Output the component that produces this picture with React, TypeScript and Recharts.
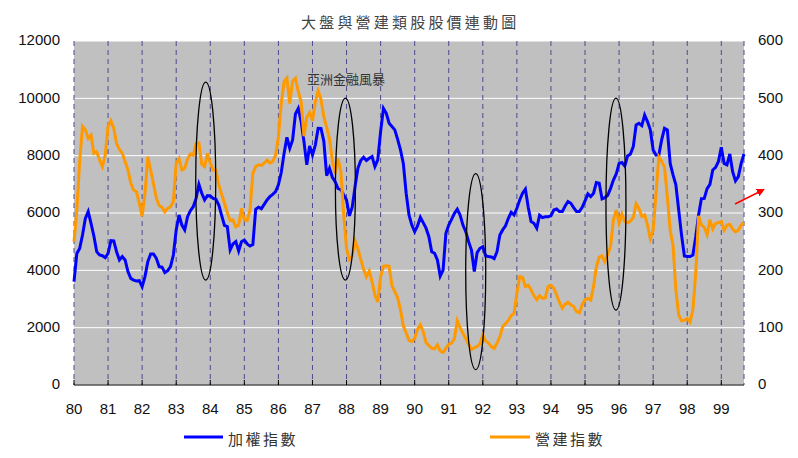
import React from 'react'
import { LineChart, Line, XAxis, YAxis, CartesianGrid, ReferenceDot } from 'recharts'

// monthly, Jan 1980 .. Sep 1999
const taiex = [
  3605, 4590, 4760, 5230, 5815, 6050, 5640, 5200, 4650, 4535, 4510, 4440,
  4590, 5035, 5025, 4650, 4360, 4480, 4360, 3955, 3720, 3660, 3630, 3640,
  3430, 3780, 4300, 4570, 4570, 4420, 4130, 4110, 3920, 3990, 4130, 4535,
  5410, 5930, 5580, 5410, 5870, 6080, 6220, 6510, 7000, 6690, 6455, 6605,
  6595, 6510, 6480, 6280, 5920, 5570, 5525, 4710, 4920, 5000, 4675, 5000,
  5060, 4920, 4850, 4900, 6130, 6200, 6150, 6300, 6455, 6570, 6650, 6745,
  6980, 7410, 8080, 8640, 8260, 8550, 9455, 9650, 9190, 8490, 7680, 8340,
  8025, 8370, 8955, 8950, 8500, 7300, 7560, 7245, 7095, 6850, 6815, 6630,
  6455, 5900, 6200, 6920, 7560, 7830, 7945, 7830, 7910, 7970, 7620, 7850,
  8840, 9650, 9480, 9130, 9015, 8900, 8570, 8200, 7730, 6690, 5930, 5580,
  5350, 5550, 5850, 5665, 5470, 5175, 4650, 4595, 4360, 3800, 4010, 5290,
  5580, 5780, 5990, 6130, 5930, 5580, 5350, 5000, 4710, 3960, 4620, 4770,
  4825, 4500, 4480, 4465, 4410, 4650, 5230, 5410, 5550, 5815, 6025, 5930,
  6165, 6455, 6690, 6830, 6200, 5700, 5640, 5470, 5920, 5840, 5870, 5870,
  5900, 6105, 6140, 6050, 6050, 6245, 6400, 6340, 6190, 6050, 6050, 6200,
  6420, 6665, 6570, 6690, 7060, 7040, 6490, 6535, 6620, 6860, 7150, 7360,
  7730, 7760, 7640, 7990, 8060, 8315, 9070, 9130, 9050, 9420, 9190, 8900,
  8200, 8025, 8025, 8550, 8955, 8900, 7730, 7330, 6980, 6105, 5230, 4500,
  4480, 4480, 4535, 5175, 5930, 6500, 6510, 6850, 7000, 7500, 7590, 7800,
  8290, 7730, 7680, 8060, 7440, 7120, 7270, 7730, 8060,
]

const construction = [
  250, 305, 390, 451, 445, 430, 436, 404, 407, 392, 381, 401,
  451, 461, 448, 421, 411, 404, 390, 375, 352, 340, 337, 317,
  294, 334, 398, 375, 351, 326, 313, 310, 302, 308, 311, 320,
  387, 395, 375, 378, 394, 403, 401, 421, 422, 385, 381, 404,
  387, 375, 375, 349, 333, 317, 301, 287, 288, 276, 279, 308,
  288, 287, 305, 369, 381, 384, 383, 387, 392, 387, 390, 401,
  433, 491, 529, 535, 491, 530, 535, 512, 494, 434, 467, 475,
  461, 494, 513, 498, 468, 450, 429, 392, 369, 395, 372, 297,
  238, 219, 225, 251, 238, 219, 202, 189, 199, 180, 157, 145,
  189, 207, 208, 207, 173, 163, 152, 131, 103, 91, 78, 76,
  81, 97, 105, 93, 74, 69, 64, 63, 70, 59, 57, 64,
  71, 73, 81, 112, 100, 90, 81, 71, 62, 65, 67, 72,
  87, 77, 73, 67, 64, 73, 84, 102, 107, 113, 121, 125,
  160, 189, 188, 172, 174, 166, 156, 149, 156, 151, 152, 172,
  174, 169, 157, 144, 134, 141, 144, 140, 137, 128, 126, 140,
  149, 151, 148, 172, 206, 223, 225, 215, 228, 242, 288, 305,
  282, 298, 285, 283, 286, 292, 316, 308, 294, 297, 279, 255,
  270, 334, 398, 390, 380, 328, 270, 244, 166, 122, 112, 113,
  116, 110, 131, 195, 295, 279, 275, 262, 288, 272, 282, 283,
  285, 270, 279, 280, 272, 267, 270, 279, 283,
]

const yearLabels = ['80', '81', '82', '83', '84', '85', '86', '87', '88', '89',
  '90', '91', '92', '93', '94', '95', '96', '97', '98', '99']
const leftTicks = [0, 2000, 4000, 6000, 8000, 10000, 12000]
const rightTicks = [0, 100, 200, 300, 400, 500, 600]

// circled periods: [month index, taiex level, half height px]
const highlights = [
  [46.4, 7115, 99],
  [95.6, 6836, 91],
  [141.5, 3952, 98],
  [190.9, 6313, 106],
]

const data = taiex.map((v, i) => ({ m: i, taiex: v, build: construction[i] }))
const xTicks = yearLabels.map((_, i) => i * 12)

const tickFont = { fontFamily: '"Liberation Sans", Arial, sans-serif', fontSize: 15, fill: '#111' }
const cjk = '"Noto Sans CJK TC", "Noto Sans CJK SC", sans-serif'

const YearTick = (props: any) => {
  const { x, y, payload } = props
  return (
    <g>
      <line x1={x} x2={x} y1={y - 18} y2={y - 23} stroke="#000" />
      <text x={x} y={y} dy="0.71em" textAnchor="middle" {...tickFont}>
        {yearLabels[Math.round(payload.value / 12)]}
      </text>
    </g>
  )
}

export default function App() {
  return (
    <div style={{ position: 'absolute', left: 0, top: 0, width: 798, height: 458, background: '#fff' }}>
      <LineChart width={798} height={458} data={data} margin={{ top: 41, right: 10, left: 14, bottom: 43 }}>
        <CartesianGrid yAxisId="left" vertical={false} stroke="#fff" fill="#c0c0c0" />
        <CartesianGrid yAxisId="left" horizontal={false} stroke="#4a4a90" strokeDasharray="5 4" />
        <XAxis
          dataKey="m"
          type="number"
          domain={[0, 236]}
          ticks={xTicks}
          interval={0}
          height={30}
          tickSize={0}
          tickMargin={18}
          tickLine={false}
          axisLine={{ stroke: '#000' }}
          tick={<YearTick />}
        />
        <YAxis
          yAxisId="left"
          domain={[0, 12000]}
          ticks={leftTicks}
          width={60}
          tickSize={0}
          tickMargin={14}
          axisLine={false}
          tickLine={false}
          tick={{ ...tickFont, dy: -1 }}
        />
        <YAxis
          yAxisId="right"
          orientation="right"
          domain={[0, 600]}
          ticks={rightTicks}
          width={44}
          tickSize={0}
          tickMargin={14}
          axisLine={false}
          tickLine={false}
          tick={{ ...tickFont, textAnchor: 'start', dy: -1 }}
        />
        <Line yAxisId="left" type="linear" dataKey="taiex" stroke="#0000ff" strokeWidth={3} dot={false} isAnimationActive={false} />
        <Line yAxisId="right" type="linear" dataKey="build" stroke="#ff9900" strokeWidth={3} dot={false} isAnimationActive={false} />
        {highlights.map(([mx, my, ry], i) => (
          <ReferenceDot
            key={i}
            x={mx}
            y={my}
            yAxisId="left"
            r={1}
            ifOverflow="visible"
            shape={(p: any) => <ellipse cx={p.cx} cy={p.cy} rx={10} ry={ry} fill="none" stroke="#000" strokeWidth={1.3} />}
          />
        ))}
      </LineChart>
      <svg width={798} height={458} style={{ position: 'absolute', left: 0, top: 0, pointerEvents: 'none' }}>
        <defs>
          <marker id="arr" markerWidth="8" markerHeight="8" refX="6" refY="4" orient="auto" markerUnits="userSpaceOnUse">
            <path d="M0,0 L8,4 L0,8 z" fill="#ff0000" />
          </marker>
        </defs>
        <text x={301} y={21.5} dominantBaseline="central" fontFamily={cjk} fontSize={15} letterSpacing={3.2} fill="#444">
          大盤與營建類股股價連動圖
        </text>
        <text x={307} y={78} dominantBaseline="central" fontFamily={cjk} fontSize={13} fill="#333">
          亞洲金融風暴
        </text>
        <line x1={735} y1={204} x2={763} y2={190} stroke="#ff0000" strokeWidth={1.5} markerEnd="url(#arr)" />
        <line x1={184} y1={437} x2={223} y2={437} stroke="#0000ff" strokeWidth={3} />
        <text x={228} y={438} dominantBaseline="central" fontFamily={cjk} fontSize={15} letterSpacing={2.5} fill="#333">
          加權指數
        </text>
        <line x1={490} y1={437} x2={530} y2={437} stroke="#ff9900" strokeWidth={3} />
        <text x={535} y={438} dominantBaseline="central" fontFamily={cjk} fontSize={15} letterSpacing={2.5} fill="#333">
          營建指數
        </text>
      </svg>
    </div>
  )
}
